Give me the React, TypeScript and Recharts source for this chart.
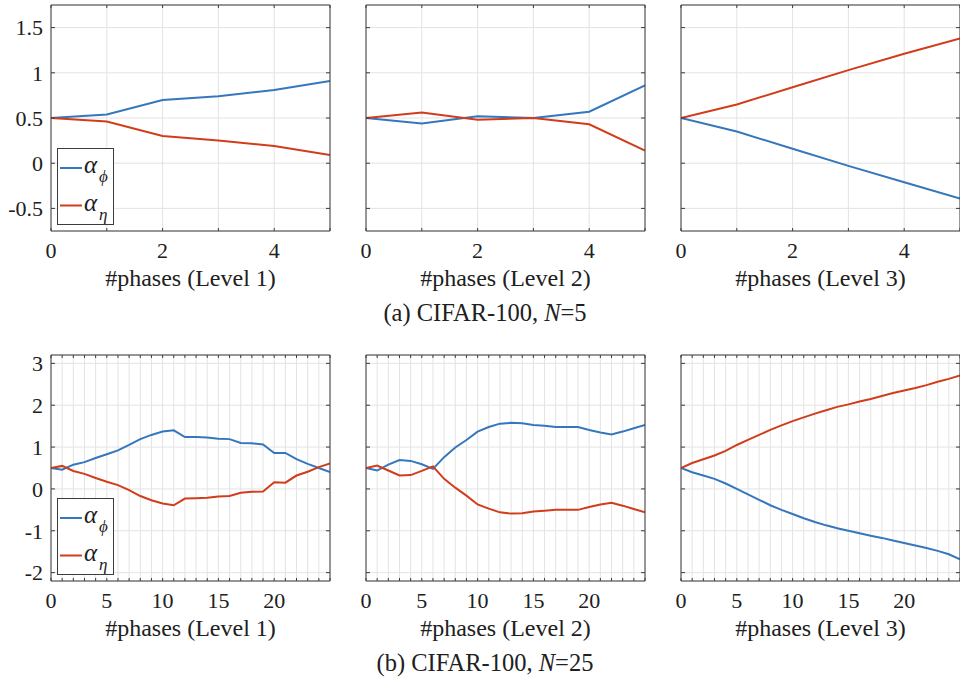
import React from 'react';
import { LineChart, Line, XAxis, YAxis, CartesianGrid } from 'recharts';

// phase indices
const PHASES_N5 = [0, 1, 2, 3, 4, 5];
const PHASES_N25 = [0, 1, 2, 3, 4, 5, 6, 7, 8, 9, 10, 11, 12, 13, 14, 15, 16, 17, 18, 19, 20, 21, 22, 23, 24, 25];

// (a) CIFAR-100, N=5
const N5_L1_PHI = [0.5, 0.54, 0.7, 0.74, 0.81, 0.91];
const N5_L1_ETA = [0.5, 0.46, 0.3, 0.25, 0.19, 0.09];
const N5_L2_PHI = [0.5, 0.44, 0.52, 0.5, 0.57, 0.86];
const N5_L2_ETA = [0.5, 0.56, 0.48, 0.5, 0.43, 0.14];
const N5_L3_PHI = [0.5, 0.35, 0.16, -0.03, -0.21, -0.39];
const N5_L3_ETA = [0.5, 0.65, 0.84, 1.03, 1.21, 1.38];

// (b) CIFAR-100, N=25
const N25_L1_PHI = [0.5, 0.46, 0.58, 0.64, 0.74, 0.83, 0.92, 1.05, 1.19, 1.29, 1.37, 1.4, 1.24, 1.24, 1.23, 1.2, 1.19, 1.1, 1.09, 1.06, 0.86, 0.86, 0.71, 0.6, 0.5, 0.4];
const N25_L1_ETA = [0.5, 0.55, 0.43, 0.36, 0.26, 0.17, 0.09, -0.03, -0.17, -0.27, -0.35, -0.39, -0.23, -0.22, -0.21, -0.18, -0.17, -0.09, -0.07, -0.06, 0.16, 0.15, 0.32, 0.41, 0.52, 0.61];
const N25_L2_PHI = [0.5, 0.44, 0.58, 0.69, 0.67, 0.59, 0.48, 0.76, 0.99, 1.17, 1.37, 1.48, 1.56, 1.58, 1.57, 1.53, 1.51, 1.48, 1.48, 1.48, 1.41, 1.35, 1.3, 1.37, 1.45, 1.53];
const N25_L2_ETA = [0.5, 0.56, 0.44, 0.32, 0.33, 0.43, 0.54, 0.24, 0.03, -0.16, -0.37, -0.47, -0.56, -0.59, -0.58, -0.54, -0.52, -0.5, -0.5, -0.5, -0.43, -0.37, -0.33, -0.4, -0.48, -0.56];
const N25_L3_PHI = [0.5, 0.4, 0.32, 0.24, 0.13, 0.0, -0.13, -0.26, -0.39, -0.5, -0.6, -0.7, -0.79, -0.87, -0.94, -1.0, -1.06, -1.12, -1.17, -1.23, -1.29, -1.35, -1.41, -1.48, -1.56, -1.68];
const N25_L3_ETA = [0.5, 0.62, 0.71, 0.8, 0.91, 1.05, 1.17, 1.29, 1.41, 1.52, 1.62, 1.71, 1.8, 1.88, 1.96, 2.02, 2.09, 2.15, 2.22, 2.29, 2.35, 2.41, 2.48, 2.56, 2.63, 2.71];

// axis ticks
const N5_X_LABELS = [0, 2, 4];
const N25_X_LABELS = [0, 5, 10, 15, 20];
const N5_Y_TICKS = [-0.5, 0, 0.5, 1, 1.5];
const N25_Y_TICKS = [-2, -1, 0, 1, 2, 3];
const N5_Y_DOMAIN = [-0.75, 1.75];
const N25_Y_DOMAIN = [-2.2, 3.2];

const LEVEL_TITLES = ['#phases (Level 1)', '#phases (Level 2)', '#phases (Level 3)'];

const BLUE = '#3577bd';
const RED = '#d13d1b';
const FRAME = '#3c3c3c';
const GRID = '#e3e3e3';
const FONT = '"Liberation Serif", "Times New Roman", serif';
const TEXT = '#202020';

const PLOT_W = 279;
const PLOT_H = 226;
const Y_AXIS_W = 51;
const X_AXIS_H = 40;
const TOP_PAD = 5;

const tickStyle = { fontSize: 22, fontFamily: FONT, fill: TEXT };

function Panel({ left, top, xs, phi, eta, xLabels, yDomain, yTicks, showY }) {
  const data = xs.map((x, i) => ({ x, phi: phi[i], eta: eta[i] }));
  const xMax = xs[xs.length - 1];
  const frame = { stroke: FRAME, strokeWidth: 1 };
  const blank = () => '';
  return (
    <div style={{ position: 'absolute', left: left - Y_AXIS_W, top: top - TOP_PAD }}>
      <LineChart
        width={Y_AXIS_W + PLOT_W + 2}
        height={TOP_PAD + PLOT_H + X_AXIS_H}
        data={data}
        margin={{ top: TOP_PAD, right: 2, bottom: 0, left: 0 }}
      >
        <CartesianGrid stroke={GRID} strokeWidth={1} />
        <XAxis
          dataKey="x"
          type="number"
          domain={[0, xMax]}
          ticks={xs}
          interval={0}
          allowDataOverflow
          height={X_AXIS_H}
          axisLine={false}
          tickLine={false}
          tickSize={0}
          tickMargin={11}
          tick={tickStyle}
          tickFormatter={(v) => (xLabels.includes(v) ? String(v) : '')}
        />
        <XAxis xAxisId="bm" orientation="bottom" mirror type="number" domain={[0, xMax]} ticks={xs} interval={0}
          allowDataOverflow axisLine={frame} tickLine={frame} tickSize={3} tickFormatter={blank} />
        <XAxis xAxisId="tm" orientation="top" mirror type="number" domain={[0, xMax]} ticks={xs} interval={0}
          allowDataOverflow axisLine={frame} tickLine={frame} tickSize={3} tickFormatter={blank} />
        <YAxis
          type="number"
          domain={yDomain}
          ticks={yTicks}
          interval={0}
          allowDataOverflow
          width={Y_AXIS_W}
          axisLine={false}
          tickLine={false}
          tickSize={0}
          tickMargin={8}
          tick={tickStyle}
          tickFormatter={showY ? (v) => String(v) : blank}
        />
        <YAxis yAxisId="lm" orientation="left" mirror type="number" domain={yDomain} ticks={yTicks} interval={0}
          allowDataOverflow axisLine={frame} tickLine={frame} tickSize={4} tickFormatter={blank} />
        <YAxis yAxisId="rm" orientation="right" mirror type="number" domain={yDomain} ticks={yTicks} interval={0}
          allowDataOverflow axisLine={frame} tickLine={frame} tickSize={4} tickFormatter={blank} />
        <Line type="linear" dataKey="phi" stroke={BLUE} strokeWidth={2} dot={false} isAnimationActive={false} />
        <Line type="linear" dataKey="eta" stroke={RED} strokeWidth={2} dot={false} isAnimationActive={false} />
      </LineChart>
    </div>
  );
}

function LegendBox({ top }) {
  const row = (y, color, sub) => (
    <g>
      <line x1={60} x2={82} y1={y} y2={y} stroke={color} strokeWidth={2} />
      <text x={84} y={y + 5} fontFamily={FONT} fontStyle="italic" fontSize={25} fill={TEXT}>α</text>
      <text x={99} y={y + 14} fontFamily={FONT} fontStyle="italic" fontSize={17} fill={TEXT}>{sub}</text>
    </g>
  );
  return (
    <g>
      <rect x={57.5} y={top + 0.5} width={56} height={76} fill="#fff" stroke={FRAME} strokeWidth={1} />
      {row(top + 20, BLUE, 'ϕ')}
      {row(top + 57.5, RED, 'η')}
    </g>
  );
}

const COL_LEFT = [51, 366, 681];
const ROW_TOP = [5, 355];

export default function App() {
  const rows = [
    {
      xs: PHASES_N5, xLabels: N5_X_LABELS, yDomain: N5_Y_DOMAIN, yTicks: N5_Y_TICKS,
      series: [[N5_L1_PHI, N5_L1_ETA], [N5_L2_PHI, N5_L2_ETA], [N5_L3_PHI, N5_L3_ETA]],
    },
    {
      xs: PHASES_N25, xLabels: N25_X_LABELS, yDomain: N25_Y_DOMAIN, yTicks: N25_Y_TICKS,
      series: [[N25_L1_PHI, N25_L1_ETA], [N25_L2_PHI, N25_L2_ETA], [N25_L3_PHI, N25_L3_ETA]],
    },
  ];

  return (
    <div style={{ position: 'absolute', left: 0, top: 0, width: 960, height: 681, overflow: 'hidden', background: '#fff' }}>
      {rows.map((r, ri) =>
        r.series.map(([phi, eta], ci) => (
          <Panel
            key={`${ri}-${ci}`}
            left={COL_LEFT[ci]}
            top={ROW_TOP[ri]}
            xs={r.xs}
            phi={phi}
            eta={eta}
            xLabels={r.xLabels}
            yDomain={r.yDomain}
            yTicks={r.yTicks}
            showY={ci === 0}
          />
        ))
      )}
      <svg width={960} height={681} style={{ position: 'absolute', left: 0, top: 0, pointerEvents: 'none' }}>
        {ROW_TOP.map((t, ri) => (
          <g key={ri}>
            {COL_LEFT.map((l, ci) => (
              <text key={ci} x={l + PLOT_W / 2} y={t + 281} textAnchor="middle" fontFamily={FONT} fontSize={24} fill={TEXT}>
                {LEVEL_TITLES[ci]}
              </text>
            ))}
            <text x={485} y={t + 316} textAnchor="middle" fontFamily={FONT} fontSize={24.5} fill={TEXT}>
              {ri === 0 ? '(a) CIFAR-100, ' : '(b) CIFAR-100, '}
              <tspan fontStyle="italic">N</tspan>
              {ri === 0 ? '=5' : '=25'}
            </text>
            <LegendBox top={t + 143} />
          </g>
        ))}
      </svg>
    </div>
  );
}
